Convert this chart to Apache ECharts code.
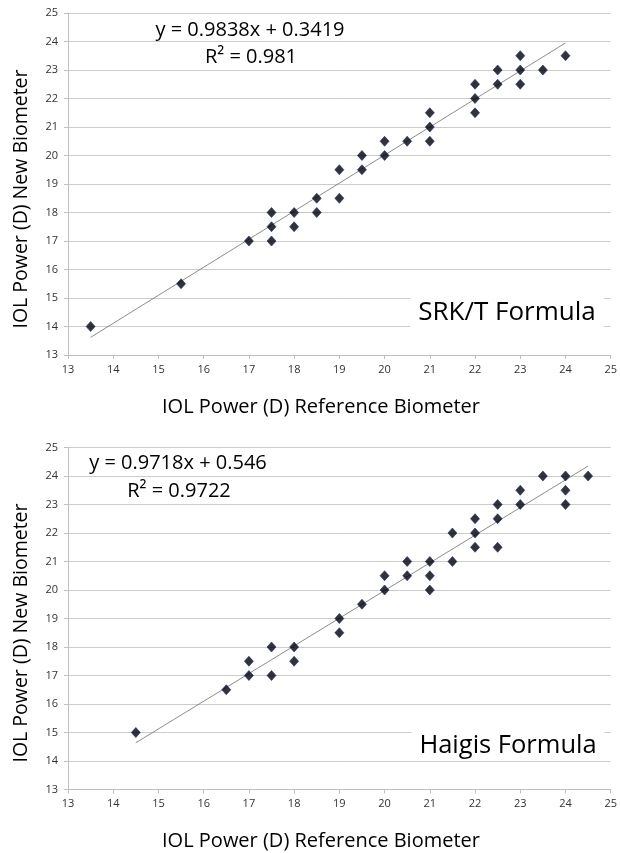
<!DOCTYPE html>
<html>
<head>
<meta charset="utf-8">
<script src="https://cdn.jsdelivr.net/npm/echarts@6/dist/echarts.min.js"></script>
<style>
  html, body { margin: 0; padding: 0; background: #fff; }
  #chart { width: 620px; height: 853px; }
</style>
</head>
<body>
<div id="chart"></div>
<script>
// axis range shared by both panels
const axisMin = 13
const axisMax = 25

// SRK/T panel: [reference, new]
const srkPoints = [
  [13.5, 14], [15.5, 15.5], [17, 17],
  [17.5, 18], [17.5, 17.5], [17.5, 17],
  [18, 18], [18, 17.5], [18.5, 18.5], [18.5, 18],
  [19, 19.5], [19, 18.5], [19.5, 20], [19.5, 19.5],
  [20, 20.5], [20, 20], [20.5, 20.5],
  [21, 21.5], [21, 21], [21, 20.5],
  [22, 22.5], [22, 22], [22, 21.5],
  [22.5, 23], [22.5, 22.5],
  [23, 23.5], [23, 23], [23, 22.5],
  [23.5, 23], [24, 23.5]
]
const srkTrend = [[13.5, 13.62], [24, 23.95]]
const srkEquation = 'y = 0.9838x + 0.3419'
const srkR2 = 'R² = 0.981'
const srkLabel = 'SRK/T Formula'

// Haigis panel
const haigisPoints = [
  [14.5, 15], [16.5, 16.5],
  [17, 17.5], [17, 17], [17.5, 18], [17.5, 17],
  [18, 18], [18, 17.5],
  [19, 19], [19, 18.5], [19.5, 19.5],
  [20, 20.5], [20, 20], [20.5, 21], [20.5, 20.5],
  [21, 21], [21, 20.5], [21, 20],
  [21.5, 22], [21.5, 21],
  [22, 22.5], [22, 22], [22, 21.5],
  [22.5, 23], [22.5, 22.5], [22.5, 21.5],
  [23, 23.5], [23, 23],
  [23.5, 24], [24, 24], [24, 23.5], [24, 23], [24.5, 24]
]
const haigisTrend = [[14.5, 14.64], [24.5, 24.35]]
const haigisEquation = 'y = 0.9718x + 0.546'
const haigisR2 = 'R² = 0.9722'
const haigisLabel = 'Haigis Formula'

const xTitle = 'IOL Power (D) Reference Biometer'
const yTitle = 'IOL Power (D) New Biometer'

const font = '"Open Sans", "Noto Sans", sans-serif'
const gridTops = [13, 447.5]

function xAxisFor(i) {
  return {
    type: 'value', gridIndex: i, min: axisMin, max: axisMax, interval: 1,
    axisLine: { show: true, lineStyle: { color: '#bfbfbf', width: 1 } },
    axisTick: { show: true, length: 4, lineStyle: { color: '#bfbfbf' } },
    axisLabel: { fontSize: 11, color: '#333', margin: 9, fontFamily: font },
    splitLine: { show: false }
  }
}

function yAxisFor(i) {
  return {
    type: 'value', gridIndex: i, min: axisMin, max: axisMax, interval: 1,
    axisLine: { show: true, lineStyle: { color: '#bfbfbf', width: 1 } },
    axisTick: { show: true, length: 4, lineStyle: { color: '#bfbfbf' } },
    axisLabel: { fontSize: 11, color: '#333', margin: 10, fontFamily: font },
    splitLine: { show: true, lineStyle: { color: '#cccccc', width: 1 } }
  }
}

function scatterFor(i, data) {
  return {
    type: 'scatter', xAxisIndex: i, yAxisIndex: i, data,
    symbol: 'diamond', symbolSize: [9, 10],
    itemStyle: { color: '#000', borderColor: '#1a2f80', borderWidth: 0.8 },
    z: 3
  }
}

function trendFor(i, data) {
  return {
    type: 'line', xAxisIndex: i, yAxisIndex: i, data,
    symbol: 'none', silent: true,
    lineStyle: { color: '#6e6e6e', width: 0.8 },
    z: 2
  }
}

function text(x, y, str, size, extra) {
  return Object.assign({
    type: 'text', x, y, z: 100,
    style: {
      text: str, fontSize: size, fontFamily: font, fill: '#000',
      textAlign: 'center', textVerticalAlign: 'middle'
    }
  }, extra || {})
}

function boxText(x, y, str, size) {
  const t = text(x, y, str, size)
  t.style.backgroundColor = '#fff'
  t.style.padding = [2, 8]
  return t
}

const chart = echarts.init(document.getElementById('chart'))
chart.setOption({
  animation: false,
  grid: gridTops.map(top => ({ left: 68, width: 547, top, height: 342 })),
  xAxis: [xAxisFor(0), xAxisFor(1)],
  yAxis: [yAxisFor(0), yAxisFor(1)],
  series: [
    trendFor(0, srkTrend), scatterFor(0, srkPoints),
    trendFor(1, haigisTrend), scatterFor(1, haigisPoints)
  ],
  graphic: [
    text(250, 30, srkEquation, 20),
    text(251, 57, srkR2, 20),
    boxText(507, 313, srkLabel, 26),
    text(321, 407, xTitle, 20),
    text(21, 199, yTitle, 19.5, { rotation: Math.PI / 2 }),

    text(178, 463, haigisEquation, 20),
    text(179, 491, haigisR2, 20),
    boxText(508, 746, haigisLabel, 25.5),
    text(321, 841, xTitle, 20),
    text(21, 633, yTitle, 19.5, { rotation: Math.PI / 2 })
  ]
})
</script>
</body>
</html>
